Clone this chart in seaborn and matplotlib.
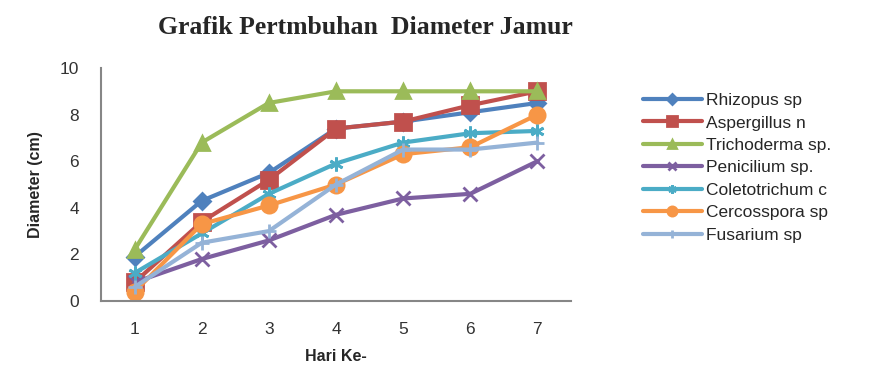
import matplotlib
matplotlib.use("Agg")
import matplotlib.pyplot as plt
import seaborn as sns
import pandas as pd
from matplotlib.ticker import FixedLocator, NullFormatter

# ─── Data ───────────────────────────────────────────────────────────────────
hari = [1, 2, 3, 4, 5, 6, 7]
series_names = ["Rhizopus sp", "Aspergillus n", "Trichoderma sp.", "Penicilium sp.",
                "Coletotrichum c", "Cercosspora sp", "Fusarium sp"]
rhizopus      = [1.9, 4.3, 5.5, 7.4, 7.7, 8.1, 8.5]
aspergillus   = [0.8, 3.4, 5.2, 7.4, 7.7, 8.4, 9.0]
trichoderma   = [2.2, 6.8, 8.5, 9.0, 9.0, 9.0, 9.0]
penicilium    = [0.8, 1.8, 2.6, 3.7, 4.4, 4.6, 6.0]
coletotrichum = [1.2, 2.9, 4.6, 5.9, 6.8, 7.2, 7.3]
cercosspora   = [0.4, 3.3, 4.1, 5.0, 6.3, 6.6, 8.0]
fusarium      = [0.6, 2.5, 3.0, 5.0, 6.5, 6.5, 6.8]

values = [rhizopus, aspergillus, trichoderma, penicilium, coletotrichum, cercosspora, fusarium]

df = pd.DataFrame({
    "Hari": hari * len(series_names),
    "Diameter": [v for s in values for v in s],
    "Jamur": [n for n in series_names for _ in hari],
})

# ─── Style ──────────────────────────────────────────────────────────────────
colors = ["#4F81BD", "#C0504D", "#9BBB59", "#7D5FA0", "#4BACC6", "#F79646", "#95B3D7"]
marker_map = ["D", "s", "^", "x", (6, 2, 0), "o", "+"]
size_map = [8, 11, 10, 10, 10, 11, 10]

sns.set_style("white")
plt.rcParams["font.family"] = ["Liberation Sans", "DejaVu Sans"]

fig = plt.figure(figsize=(8.86, 3.67), dpi=100)
ax = fig.add_axes([101 / 886, 1 - 301 / 367, (571 - 101) / 886, (301 - 68) / 367])

for name, col, mk, ms in zip(series_names, colors, marker_map, size_map):
    sub = df[df["Jamur"] == name]
    sns.lineplot(data=sub, x="Hari", y="Diameter", ax=ax, color=col, linewidth=3,
                 marker=mk, markersize=ms, markeredgecolor=col, markeredgewidth=2,
                 label=name)

ax.set_xlim(0.5, 7.5)
ax.set_ylim(0, 10)
ax.set_yticks([0, 2, 4, 6, 8, 10])
ax.set_xticks(hari)
ax.xaxis.set_minor_locator(FixedLocator([0.5 + i for i in range(8)]))
ax.xaxis.set_minor_formatter(NullFormatter())
ax.tick_params(axis="x", which="major", length=0, labelsize=12.5, pad=15,
               labelcolor="#333333")
ax.tick_params(axis="x", which="minor", length=5, color="#868686", width=1.2, direction="out")
ax.tick_params(axis="y", length=5, color="#868686", width=1.2, direction="out",
               labelsize=12.5, pad=11, labelcolor="#333333")
for sp in ["top", "right"]:
    ax.spines[sp].set_visible(False)
for sp in ["left", "bottom"]:
    ax.spines[sp].set_color("#868686")
    ax.spines[sp].set_linewidth(1.5)

ax.set_xlabel("Hari Ke-", fontsize=11.5, fontweight="bold", labelpad=9)
ax.set_ylabel("Diameter (cm)", fontsize=11.5, fontweight="bold", labelpad=12)

fig.text(365 / 886, 1 - 28 / 367, "Grafik Pertmbuhan  Diameter Jamur",
         ha="center", va="center", fontsize=18.5, fontweight="bold",
         family=["Liberation Serif", "DejaVu Serif"])

leg = ax.legend(loc="upper left", bbox_to_anchor=(636 / 886, 1 - 86 / 367),
                bbox_transform=fig.transFigure, frameon=False, fontsize=12.5,
                handlelength=3.4, handletextpad=0.25, labelspacing=0.42,
                borderaxespad=0, markerscale=0.6)

fig.savefig("out.png", dpi=100, facecolor="white")
